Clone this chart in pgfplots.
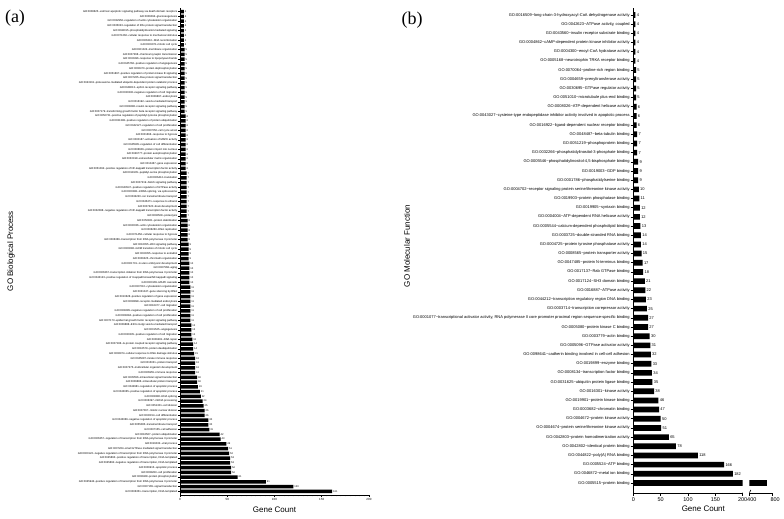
\documentclass[border=0pt]{standalone}
\usepackage{fontspec}
\setmainfont{Liberation Sans}
\newfontfamily\panelfont{Liberation Serif}
\usepackage{pgfplots}
\usepackage{pgfplotstable}
\pgfplotsset{compat=1.18}
\newcommand\T{\textasciitilde}

% GO biological process, listed from the bottom bar upwards
\pgfplotstableread[col sep=semicolon,row sep=\\]{
y;n;label\\
0;161;GO:0006351\T transcription, DNA-templated\\
1;120;GO:0007165\T signal transduction\\
2;91;GO:0045944\T positive regulation of transcription from RNA polymerase II promoter\\
3;61;GO:0006468\T protein phosphorylation\\
4;54;GO:0008283\T cell proliferation\\
5;54;GO:0006915\T apoptotic process\\
6;53;GO:0045892\T negative regulation of transcription, DNA-templated\\
7;53;GO:0045893\T positive regulation of transcription, DNA-templated\\
8;52;GO:0000122\T negative regulation of transcription from RNA polymerase II promoter\\
9;51;GO:0007264\T small GTPase mediated signal transduction\\
10;49;GO:0016032\T viral process\\
11;43;GO:0006357\T regulation of transcription from RNA polymerase II promoter\\
12;42;GO:0016567\T protein ubiquitination\\
13;31;GO:0007155\T cell adhesion\\
14;30;GO:0055085\T transmembrane transport\\
15;30;GO:0043066\T negative regulation of apoptotic process\\
16;26;GO:0030154\T cell differentiation\\
17;26;GO:0007067\T mitotic nuclear division\\
18;25;GO:0051301\T cell division\\
19;24;GO:0006397\T mRNA processing\\
20;22;GO:0008380\T RNA splicing\\
21;21;GO:0043065\T positive regulation of apoptotic process\\
22;19;GO:0042981\T regulation of apoptotic process\\
23;18;GO:0006886\T intracellular protein transport\\
24;18;GO:0035556\T intracellular signal transduction\\
25;16;GO:0006955\T immune response\\
26;16;GO:0007275\T multicellular organism development\\
27;16;GO:0015031\T protein transport\\
28;16;GO:0045087\T innate immune response\\
29;15;GO:0006974\T cellular response to DNA damage stimulus\\
30;14;GO:0016579\T protein deubiquitination\\
31;14;GO:0007186\T G-protein coupled receptor signaling pathway\\
32;13;GO:0006281\T DNA repair\\
33;12;GO:0030335\T positive regulation of cell migration\\
34;12;GO:0001525\T angiogenesis\\
35;12;GO:0006888\T ER to Golgi vesicle-mediated transport\\
36;11;GO:0007173\T epidermal growth factor receptor signaling pathway\\
37;11;GO:0008284\T positive regulation of cell proliferation\\
38;11;GO:0008285\T negative regulation of cell proliferation\\
39;11;GO:0016477\T cell migration\\
40;11;GO:0006898\T receptor-mediated endocytosis\\
41;11;GO:0010628\T positive regulation of gene expression\\
42;11;GO:0031047\T gene silencing by RNA\\
43;11;GO:0007010\T cytoskeleton organization\\
44;10;GO:0000165\T MAPK cascade\\
45;10;GO:0043123\T positive regulation of I-kappaB kinase/NF-kappaB signaling\\
46;10;GO:0006367\T transcription initiation from RNA polymerase II promoter\\
47;10;GO:0007568\T aging\\
48;10;GO:0001701\T in utero embryonic development\\
49;9;GO:0006325\T chromatin organization\\
50;9;GO:0032355\T response to estradiol\\
51;9;GO:0000086\T G2/M transition of mitotic cell cycle\\
52;9;GO:0016055\T Wnt signaling pathway\\
53;8;GO:0006366\T transcription from RNA polymerase II promoter\\
54;8;GO:0071456\T cellular response to hypoxia\\
55;8;GO:0006260\T DNA replication\\
56;8;GO:0030036\T actin cytoskeleton organization\\
57;8;GO:0050821\T protein stabilization\\
58;7;GO:0006508\T proteolysis\\
59;7;GO:0032088\T negative regulation of NF-kappaB transcription factor activity\\
60;7;GO:0007420\T brain development\\
61;7;GO:0045471\T response to ethanol\\
62;7;GO:0034220\T ion transmembrane transport\\
63;7;GO:0000398\T mRNA splicing, via spliceosome\\
64;7;GO:0043547\T positive regulation of GTPase activity\\
65;7;GO:0007219\T Notch signaling pathway\\
66;7;GO:0006412\T translation\\
67;7;GO:0018105\T peptidyl-serine phosphorylation\\
68;6;GO:0051092\T positive regulation of NF-kappaB transcription factor activity\\
69;6;GO:0010467\T gene expression\\
70;6;GO:0030198\T extracellular matrix organization\\
71;6;GO:0046777\T protein autophosphorylation\\
72;6;GO:0006606\T protein import into nucleus\\
73;6;GO:0045595\T regulation of cell differentiation\\
74;6;GO:0000187\T activation of MAPK activity\\
75;6;GO:0001666\T response to hypoxia\\
76;6;GO:0007050\T cell cycle arrest\\
77;6;GO:0042127\T regulation of cell proliferation\\
78;6;GO:0031398\T positive regulation of protein ubiquitination\\
79;6;GO:0050731\T positive regulation of peptidyl-tyrosine phosphorylation\\
80;5;GO:0007179\T transforming growth factor beta receptor signaling pathway\\
81;5;GO:0008286\T insulin receptor signaling pathway\\
82;5;GO:0016192\T vesicle-mediated transport\\
83;5;GO:0006897\T endocytosis\\
84;5;GO:0030336\T negative regulation of cell migration\\
85;5;GO:0048013\T ephrin receptor signaling pathway\\
86;5;GO:0043161\T proteasome-mediated ubiquitin-dependent protein catabolic process\\
87;5;GO:0007265\T Ras protein signal transduction\\
88;5;GO:0051897\T positive regulation of protein kinase B signaling\\
89;5;GO:0006470\T protein dephosphorylation\\
90;5;GO:0045766\T positive regulation of angiogenesis\\
91;5;GO:0032496\T response to lipopolysaccharide\\
92;5;GO:0007268\T chemical synaptic transmission\\
93;5;GO:0061024\T membrane organization\\
94;4;GO:0000278\T mitotic cell cycle\\
95;4;GO:0006310\T DNA recombination\\
96;4;GO:0071260\T cellular response to mechanical stimulus\\
97;4;GO:0048015\T phosphatidylinositol-mediated signaling\\
98;4;GO:0035023\T regulation of Rho protein signal transduction\\
99;4;GO:0032956\T regulation of actin cytoskeleton organization\\
100;4;GO:0006094\T gluconeogenesis\\
101;4;GO:0008625\T extrinsic apoptotic signaling pathway via death domain receptors\\
}\bpTable

% GO molecular function, listed from the bottom bar upwards
\pgfplotstableread[col sep=semicolon,row sep=\\]{
y;n;label\\
0;700;GO:0005515\T protein binding\\
1;182;GO:0046872\T metal ion binding\\
2;166;GO:0005524\T ATP binding\\
3;118;GO:0044822\T poly(A) RNA binding\\
4;78;GO:0042802\T identical protein binding\\
5;65;GO:0042803\T protein homodimerization activity\\
6;51;GO:0004674\T protein serine/threonine kinase activity\\
7;50;GO:0004672\T protein kinase activity\\
8;47;GO:0003682\T chromatin binding\\
9;46;GO:0019901\T protein kinase binding\\
10;38;GO:0016301\T kinase activity\\
11;35;GO:0031625\T ubiquitin protein ligase binding\\
12;34;GO:0008134\T transcription factor binding\\
13;33;GO:0019899\T enzyme binding\\
14;32;GO:0098641\T cadherin binding involved in cell-cell adhesion\\
15;31;GO:0005096\T GTPase activator activity\\
16;30;GO:0003779\T actin binding\\
17;27;GO:0005080\T protein kinase C binding\\
18;27;GO:0001077\T transcriptional activator activity, RNA polymerase II core promoter proximal region sequence-specific binding\\
19;25;GO:0003714\T transcription corepressor activity\\
20;23;GO:0044212\T transcription regulatory region DNA binding\\
21;22;GO:0016887\T ATPase activity\\
22;21;GO:0017124\T SH3 domain binding\\
23;18;GO:0017137\T Rab GTPase binding\\
24;17;GO:0047485\T protein N-terminus binding\\
25;15;GO:0008565\T protein transporter activity\\
26;14;GO:0004725\T protein tyrosine phosphatase activity\\
27;14;GO:0003725\T double-stranded RNA binding\\
28;13;GO:0005544\T calcium-dependent phospholipid binding\\
29;12;GO:0004004\T ATP-dependent RNA helicase activity\\
30;12;GO:0019905\T syntaxin binding\\
31;11;GO:0019903\T protein phosphatase binding\\
32;10;GO:0004702\T receptor signaling protein serine/threonine kinase activity\\
33;9;GO:0001786\T phosphatidylserine binding\\
34;9;GO:0019003\T GDP binding\\
35;9;GO:0005546\T phosphatidylinositol-4,5-bisphosphate binding\\
36;7;GO:0032266\T phosphatidylinositol-3-phosphate binding\\
37;7;GO:0051219\T phosphoprotein binding\\
38;7;GO:0048487\T beta-tubulin binding\\
39;6;GO:0016922\T ligand-dependent nuclear receptor binding\\
40;6;GO:0043027\T cysteine-type endopeptidase inhibitor activity involved in apoptotic process\\
41;6;GO:0008026\T ATP-dependent helicase activity\\
42;5;GO:0051010\T microtubule plus-end binding\\
43;5;GO:0030695\T GTPase regulator activity\\
44;5;GO:0004659\T prenyltransferase activity\\
45;5;GO:0070064\T proline-rich region binding\\
46;4;GO:0005168\T neurotrophin TRKA receptor binding\\
47;4;GO:0004300\T enoyl-CoA hydratase activity\\
48;4;GO:0004862\T cAMP-dependent protein kinase inhibitor activity\\
49;4;GO:0043560\T insulin receptor substrate binding\\
50;4;GO:0042623\T ATPase activity, coupled\\
51;4;GO:0016509\T long-chain-3-hydroxyacyl-CoA dehydrogenase activity\\
}\mfTable

\pgfplotsset{
  /pgf/number format/assume math mode=true,
  gobars/.style={
    scale only axis, xbar, bar shift=0pt,
    axis x line*=bottom, axis y line*=left,
    axis line style={black, line width=1pt},
    tick style={black, line width=0.6pt},
    xtick align=outside, ytick align=outside,
    nodes near coords, point meta=x,
  },
}

\begin{document}
\begin{tikzpicture}[x=1pt,y=1pt]
\path[use as bounding box] (0,0) rectangle (784,-519);

% ---- (a) biological process
\begin{axis}[gobars,
  at={(180pt,-495pt)}, anchor=south west,
  width=189pt, height=487pt,
  xmin=0, xmax=200, ymin=-0.78, ymax=101.78,
  bar width=0.72,
  xtick={0,50,...,200}, minor x tick num=9,
  major tick length=2pt, minor tick length=1.3pt,
  ytick={0,...,101},
  yticklabels from table={\bpTable}{label},
  yticklabel style={font=\fontsize{2.7}{3}\selectfont, inner sep=0.6pt},
  xticklabel style={font=\fontsize{3}{3.5}\selectfont, inner sep=1pt},
  every node near coord/.append style={font=\fontsize{2.6}{3}\selectfont, inner sep=0.8pt},
  xlabel={Gene Count},
  xlabel style={font=\fontsize{8}{9}\selectfont, at={(axis description cs:0.5,0)}, anchor=north, yshift=-8pt},
]
\addplot[fill=black, draw=none, bar shift=0pt] table[x=n, y=y] {\bpTable};
\end{axis}

% ---- (b) molecular function, part below the break
\begin{axis}[gobars,
  at={(633.3pt,-493pt)}, anchor=south west,
  width=109.4pt, height=484.7pt,
  xmin=0, xmax=200, ymin=-1.09, ymax=51.73,
  bar width=0.62,
  xtick={0,50,...,200},
  major tick length=2.6pt,
  ytick={0,...,51},
  yticklabels from table={\mfTable}{label},
  yticklabel style={font=\fontsize{4}{5}\selectfont, inner sep=0.8pt},
  xticklabel style={font=\fontsize{5.5}{6}\selectfont, inner sep=1.5pt},
  every node near coord/.append style={font=\fontsize{4}{5}\selectfont, inner sep=1.2pt},
  xlabel={Gene Count},
  xlabel style={font=\fontsize{8}{9}\selectfont, at={(axis description cs:0.64,0)}, anchor=north, yshift=-9pt},
]
\addplot[fill=black, draw=none, bar shift=0pt, skip coords between index={0}{1}] table[x=n, y=y] {\mfTable};
\addplot[fill=black, draw=none, bar shift=0pt, nodes near coords={}, skip coords between index={1}{52}] table[x=n, y=y] {\mfTable};
\draw[line width=0.7pt] ([xshift=-1.5pt,yshift=-3pt]rel axis cs:1,0) -- ++(3pt,6pt);
\end{axis}

% ---- (b) part above the break
\begin{axis}[scale only axis, xbar, bar shift=0pt,
  at={(749.3pt,-493pt)}, anchor=south west,
  width=23.4pt, height=484.7pt,
  xmin=400, xmax=800, ymin=-1.09, ymax=51.73,
  bar width=0.62,
  axis x line*=bottom, axis y line=none,
  axis line style={black, line width=1pt},
  tick style={black, line width=0.6pt}, xtick align=outside,
  major tick length=2.6pt,
  xtick={400,800}, ytick=\empty,
  xticklabel style={font=\fontsize{5.5}{6}\selectfont, inner sep=1.5pt, xshift=2.5pt},
]
\addplot[fill=black, draw=none, bar shift=0pt, skip coords between index={1}{52}] table[x=n, y=y] {\mfTable};
\draw[line width=0.7pt] ([xshift=-1.5pt,yshift=-3pt]rel axis cs:0,0) -- ++(3pt,6pt);
\end{axis}

\node[font=\fontsize{8}{9}\selectfont, rotate=90] at (11,-251) {GO Biological Process};
\node[font=\fontsize{8}{9}\selectfont, rotate=90] at (407,-246) {GO Molecular Function};
\node[font=\panelfont\fontsize{18}{20}\selectfont] at (15,-18) {(a)};
\node[font=\panelfont\fontsize{18}{20}\selectfont] at (412,-20) {(b)};
\end{tikzpicture}
\end{document}
